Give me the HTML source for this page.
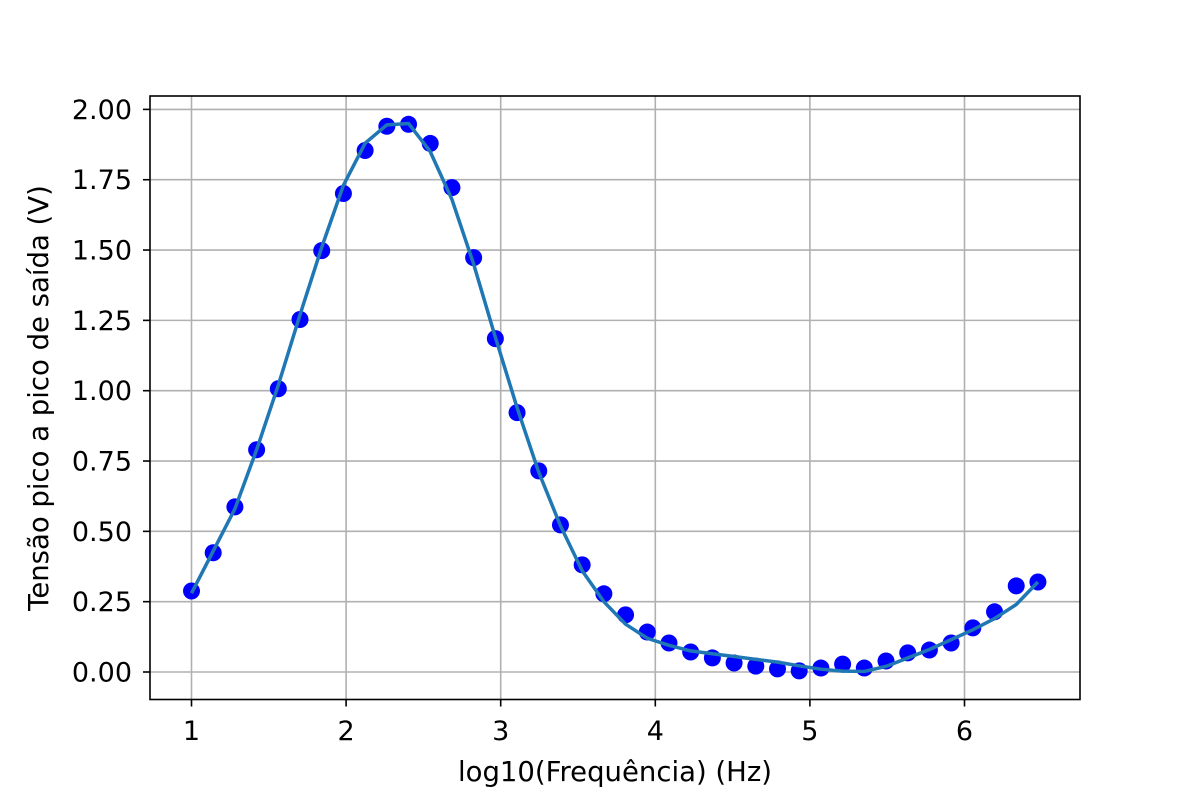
<!DOCTYPE html>
<html><head><meta charset="utf-8"><style>html,body{margin:0;padding:0;background:#fff}svg{display:block}text{font-family:"DejaVu Sans","Liberation Sans",sans-serif;fill:#000}</style></head>
<body>
<svg id="chart" width="1200" height="800" viewBox="0 0 1200 800">
<rect x="0" y="0" width="1200" height="800" fill="#fff"/>
<g id="grid"></g>
<g id="series"></g>
<rect x="150" y="96" width="930" height="603.5" fill="none" stroke="#000" stroke-width="1.6"/>
<g id="ticks"></g>
<text x="615" y="781" font-size="27.5" text-anchor="middle">log10(Frequência) (Hz)</text>
<text x="0" y="0" font-size="27.5" text-anchor="middle" transform="translate(48,398) rotate(-90)">Tensão pico a pico de saída (V)</text>
</svg>
<script>
const xTicks = [1, 2, 3, 4, 5, 6];
const xTickLabels = ["1", "2", "3", "4", "5", "6"];
const yTicks = [0, 0.25, 0.5, 0.75, 1.0, 1.25, 1.5, 1.75, 2.0];
const yTickLabels = ["0.00", "0.25", "0.50", "0.75", "1.00", "1.25", "1.50", "1.75", "2.00"];
const pointY = [0.288,0.424,0.587,0.79,1.007,1.253,1.498,1.701,1.854,1.940,1.947,1.879,1.722,1.473,1.185,0.922,0.715,0.523,0.381,0.278,0.203,0.142,0.103,0.071,0.05,0.032,0.021,0.011,0.004,0.014,0.028,0.014,0.039,0.068,0.078,0.103,0.157,0.214,0.306,0.320];
const lineY = [0.28,0.43,0.58,0.79,1.02,1.27,1.51,1.73,1.88,1.945,1.95,1.85,1.68,1.45,1.19,0.94,0.71,0.52,0.36,0.25,0.17,0.12,0.095,0.075,0.065,0.055,0.045,0.035,0.022,0.01,0.003,0.002,0.02,0.05,0.08,0.115,0.15,0.19,0.24,0.32];
const xStart = 1, xEnd = 6.475;

const ns = "http://www.w3.org/2000/svg";
function sx(v){ return 191.5 + (v - 1) * 154.6; }
function sy(v){ return 672 - v * 281.3; }
function mk(tag, attrs, parent){ const e = document.createElementNS(ns, tag); for (const k in attrs) e.setAttribute(k, attrs[k]); parent.appendChild(e); return e; }
const grid = document.getElementById('grid'), ticks = document.getElementById('ticks'), series = document.getElementById('series');
xTicks.forEach((t, i) => {
  const g = mk('line', {x1: sx(t), x2: sx(t), y1: 96, y2: 699.5, stroke: '#b0b0b0', 'stroke-width': 1.6}, grid);
  
  
  const tk = mk('line', {x1: sx(t), x2: sx(t), y1: 699.5, y2: 706.5, stroke: '#000', 'stroke-width': 1.6}, ticks);
  
  
  const tx = mk('text', {x: sx(t), y: 740, 'font-size': 27, 'text-anchor': 'middle'}, ticks);
  tx.textContent = xTickLabels[i];
  
  
});
yTicks.forEach((t, i) => {
  const g = mk('line', {x1: 150, x2: 1080, y1: sy(t), y2: sy(t), stroke: '#b0b0b0', 'stroke-width': 1.6}, grid);
  
  
  const tk = mk('line', {x1: 143, x2: 150, y1: sy(t), y2: sy(t), stroke: '#000', 'stroke-width': 1.6}, ticks);
  
  
  const tx = mk('text', {x: 132, y: sy(t) + 9.5, 'font-size': 27, 'text-anchor': 'end'}, ticks);
  tx.textContent = yTickLabels[i];
  
  
});
const n = pointY.length;
const xs = pointY.map((_, i) => xStart + (xEnd - xStart) * i / (n - 1));
pointY.forEach((v, i) => {
  const c = mk('circle', {cx: sx(xs[i]), cy: sy(v), r: 8.5, fill: '#0000ff'}, series);
  
  
});
const pl = mk('polyline', {points: lineY.map((v, i) => sx(xs[i]) + ',' + sy(v)).join(' '), fill: 'none', stroke: '#1f77b4', 'stroke-width': 3.5, 'stroke-linejoin': 'round'}, series);


</script>
</body></html>
